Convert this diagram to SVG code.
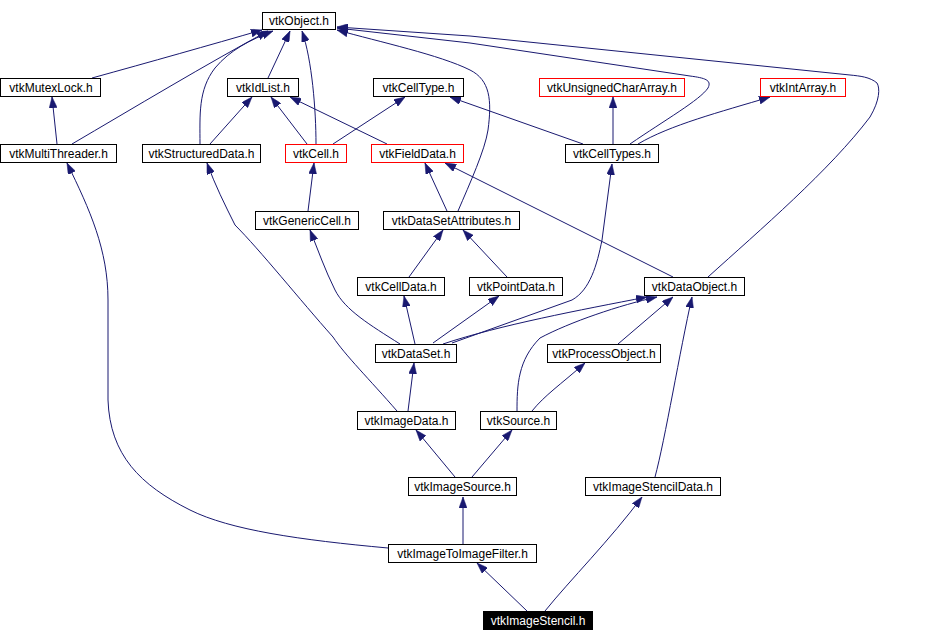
<svg xmlns="http://www.w3.org/2000/svg" width="940" height="642" viewBox="0 0 940 642">
<style>
.n rect{fill:#fff;stroke:#000;stroke-width:1}
.n.r rect{stroke:#ff0000}
.n.h rect{fill:#000}
.n text{font-family:"Liberation Sans",Arial,sans-serif;font-size:12px;text-anchor:middle;fill:#000}
.n.h text{fill:#fff}
#edges path{fill:none;stroke:#191970;stroke-width:1;marker-end:url(#ah)}
</style>
<defs>
<marker id="ah" markerUnits="userSpaceOnUse" markerWidth="11" markerHeight="8" viewBox="0 0 11 8" refX="11" refY="4" orient="auto">
<path d="M0,0 L11,4 L0,8 z" fill="#191970" stroke="#191970" stroke-width="0.5"/>
</marker>
</defs>
<rect width="940" height="642" fill="#fff"/>
<g id="edges">
<path d="M92,78 C150,62 210,45 262,30"/>
<path d="M72,144 C130,110 210,62 268,31"/>
<path d="M200,144 C200,115 198,90 215,68 C230,50 250,40 273,31"/>
<path d="M268,78 L290,31"/>
<path d="M316,144 C316,110 312,60 302,31"/>
<path d="M57,144 L52,97"/>
<path d="M210,144 L252,97"/>
<path d="M307,144 L271,97"/>
<path d="M333,144 L405,97"/>
<path d="M387,144 L290,97"/>
<path d="M583,144 L450,97"/>
<path d="M613,144 L613,97"/>
<path d="M638,144 C670,125 720,112 770,97"/>
<path d="M630,144 C665,120 700,100 708,88 C712,80 705,78 690,76 L470,43 L337,28"/>
<path d="M708,277 C760,230 830,170 870,117 C880,100 880,88 877,83 C870,77 860,76 850,75 L470,36 L337,27"/>
<path d="M458,211 C470,183 485,150 488,130 C492,100 490,80 470,70 C440,55 380,42 337,30"/>
<path d="M308,211 L314,163"/>
<path d="M447,211 L425,163"/>
<path d="M673,277 L445,163"/>
<path d="M409,277 L443,230"/>
<path d="M507,277 L463,230"/>
<path d="M400,344 C370,325 345,310 335,290 C325,270 318,250 310,230"/>
<path d="M415,344 L404,296"/>
<path d="M433,343 L499,296"/>
<path d="M443,344 C500,325 580,310 647,297"/>
<path d="M452,343 L572,300 C590,290 597,265 602,240 L612,164"/>
<path d="M618,344 L673,297"/>
<path d="M517,411 C517,385 518,360 540,338 C570,322 620,305 657,297"/>
<path d="M532,411 C545,395 560,385 585,363"/>
<path d="M408,411 L414,363"/>
<path d="M397,411 C370,380 345,355 333,337 C300,300 260,250 235,225 C225,205 215,185 207,163"/>
<path d="M455,477 L416,430"/>
<path d="M472,477 L512,430"/>
<path d="M463,544 L463,497"/>
<path d="M388,548 C300,540 230,530 190,510 C140,485 110,455 108,400 L108,300 C108,250 90,210 67,163"/>
<path d="M527,611 L477,563"/>
<path d="M545,611 C570,580 610,540 642,497"/>
<path d="M655,477 C665,440 680,350 692,297"/>
</g>
<g id="vtkObject" class="n"><rect x="262.5" y="12.5" width="73" height="17"/><text x="299" y="25">vtkObject.h</text></g>
<g id="vtkMutexLock" class="n"><rect x="0.5" y="78.5" width="100" height="18"/><text x="51" y="92">vtkMutexLock.h</text></g>
<g id="vtkIdList" class="n"><rect x="227.5" y="78.5" width="71" height="18"/><text x="263" y="92">vtkIdList.h</text></g>
<g id="vtkCellType" class="n"><rect x="373.5" y="78.5" width="90" height="18"/><text x="418.5" y="92">vtkCellType.h</text></g>
<g id="vtkUnsignedCharArray" class="n r"><rect x="539.5" y="78.5" width="145" height="18"/><text x="612" y="92">vtkUnsignedCharArray.h</text></g>
<g id="vtkIntArray" class="n r"><rect x="760.5" y="78.5" width="85" height="18"/><text x="803" y="92">vtkIntArray.h</text></g>
<g id="vtkMultiThreader" class="n"><rect x="0.5" y="144.5" width="116" height="18"/><text x="58.5" y="158">vtkMultiThreader.h</text></g>
<g id="vtkStructuredData" class="n"><rect x="142.5" y="144.5" width="118" height="18"/><text x="201.5" y="158">vtkStructuredData.h</text></g>
<g id="vtkCell" class="n r"><rect x="285.5" y="144.5" width="61" height="18"/><text x="316" y="158">vtkCell.h</text></g>
<g id="vtkFieldData" class="n r"><rect x="371.5" y="144.5" width="92" height="18"/><text x="417.5" y="158">vtkFieldData.h</text></g>
<g id="vtkCellTypes" class="n"><rect x="565.5" y="144.5" width="93" height="18"/><text x="612" y="158">vtkCellTypes.h</text></g>
<g id="vtkGenericCell" class="n"><rect x="255.5" y="211.5" width="103" height="18"/><text x="307" y="225">vtkGenericCell.h</text></g>
<g id="vtkDataSetAttributes" class="n"><rect x="383.5" y="211.5" width="136" height="18"/><text x="451.5" y="225">vtkDataSetAttributes.h</text></g>
<g id="vtkCellData" class="n"><rect x="357.5" y="277.5" width="87" height="18"/><text x="401" y="291">vtkCellData.h</text></g>
<g id="vtkPointData" class="n"><rect x="469.5" y="277.5" width="93" height="18"/><text x="516" y="291">vtkPointData.h</text></g>
<g id="vtkDataObject" class="n"><rect x="644.5" y="277.5" width="100" height="18"/><text x="694.5" y="291">vtkDataObject.h</text></g>
<g id="vtkDataSet" class="n"><rect x="375.5" y="344.5" width="81" height="18"/><text x="416" y="358">vtkDataSet.h</text></g>
<g id="vtkProcessObject" class="n"><rect x="547.5" y="344.5" width="113" height="18"/><text x="604" y="358">vtkProcessObject.h</text></g>
<g id="vtkImageData" class="n"><rect x="357.5" y="411.5" width="98" height="18"/><text x="406.5" y="425">vtkImageData.h</text></g>
<g id="vtkSource" class="n"><rect x="480.5" y="411.5" width="76" height="18"/><text x="518.5" y="425">vtkSource.h</text></g>
<g id="vtkImageSource" class="n"><rect x="408.5" y="477.5" width="108" height="18"/><text x="462.5" y="491">vtkImageSource.h</text></g>
<g id="vtkImageStencilData" class="n"><rect x="585.5" y="477.5" width="135" height="18"/><text x="653" y="491">vtkImageStencilData.h</text></g>
<g id="vtkImageToImageFilter" class="n"><rect x="388.5" y="544.5" width="148" height="18"/><text x="462.5" y="558">vtkImageToImageFilter.h</text></g>
<g id="vtkImageStencil" class="n h"><rect x="483.5" y="611.5" width="109" height="18"/><text x="538" y="625">vtkImageStencil.h</text></g>
</svg>
